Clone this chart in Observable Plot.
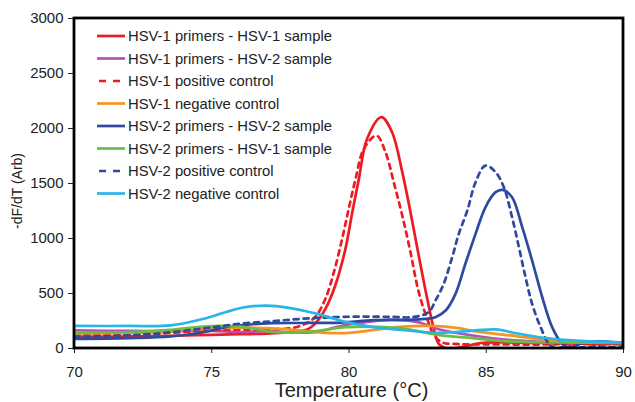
<!DOCTYPE html>
<html>
<head>
<meta charset="utf-8">
<script src="https://cdn.jsdelivr.net/npm/d3@7"></script>
<script src="https://cdn.jsdelivr.net/npm/@observablehq/plot@0.6"></script>
<style>
  html, body { margin: 0; padding: 0; background: #fff; }
  #chart { width: 635px; height: 402px; }
</style>
</head>
<body>
<div id="chart"></div>
<script>
// ---- Data: [temperature °C, -dF/dT] ----
const hsv1PrimHsv1Sample = [[70,109],[71,108],[72,110],[73,112],[74,118],[75,124],[76,130],[77,135],[77.8,148],[78.5,175],[78.8,235],[79.14,360],[79.5,573],[79.87,906],[80.12,1239],[80.36,1542],[80.66,1906],[81.18,2103],[81.57,1966],[81.94,1603],[82.24,1239],[82.54,845],[82.85,452],[83.09,179],[83.27,42],[83.5,5],[83.75,0],[84.0,8],[84.4,30],[84.8,50],[85.5,55],[86.5,52],[87.5,48],[88.5,45],[90,40]];
const hsv1PrimHsv2Sample = [[70,164],[72,160],[74,158],[75,160],[76,150],[77,158],[78,145],[78.8,150],[79.7,205],[80.6,240],[81.5,261],[82.5,240],[83.3,173],[84.5,118],[85.8,78],[87,62],[88,55],[90,50]];
const hsv1PosControl = [[70,118],[71,125],[72,130],[73,135],[74,150],[75,165],[76,172],[77,173],[78,190],[78.4,224],[78.78,290],[79.14,452],[79.45,694],[79.75,997],[79.99,1270],[80.24,1542],[80.54,1815],[81.0,1935],[81.33,1785],[81.63,1512],[81.94,1209],[82.24,875],[82.54,512],[82.85,270],[83.1,120],[83.4,55],[84,40],[85,38],[86,36],[87,36],[88,40],[89,40],[90,40]];
const hsv1NegControl = [[70,140],[72,142],[73.5,150],[74.8,180],[76,190],[77,185],[78,170],[79,145],[80,142],[81,172],[82,200],[83,205],[84,185],[84.5,160],[85.8,121],[87,85],[88,64],[89,55],[90,50]];
const hsv2PrimHsv2Sample = [[70,88],[72,95],[73.5,110],[74.7,148],[75.5,195],[76.2,215],[77.2,230],[78.3,232],[79.7,235],[80.9,258],[82.1,261],[82.79,270],[83.15,285],[83.52,345],[83.88,497],[84.24,770],[84.61,1042],[84.97,1284],[85.34,1421],[85.6,1442],[85.94,1375],[86.31,1103],[86.67,800],[87.04,466],[87.4,194],[87.77,42],[88.07,6],[88.5,50],[89,64],[89.7,55],[90,45]];
const hsv2PrimHsv1Sample = [[70,139],[72,150],[73.5,170],[74.7,200],[75.5,205],[76.2,195],[77.2,150],[78.4,148],[79.9,194],[81,197],[82,182],[83.3,121],[84.5,95],[85.8,64],[87.5,55],[90,50]];
const hsv2PosControl = [[70,103],[71.5,115],[73,136],[74.7,182],[76,224],[77.2,248],[78.3,270],[79.45,285],[80.5,290],[81.5,288],[82.3,285],[82.9,330],[83.15,436],[83.45,588],[83.76,830],[84.0,1042],[84.31,1254],[84.61,1512],[84.97,1663],[85.34,1603],[85.64,1466],[85.94,1194],[86.19,921],[86.43,648],[86.67,406],[86.98,194],[87.28,42],[87.5,5],[88,20],[88.5,10],[89,20],[89.7,10],[90,20]];
const hsv2NegControl = [[70,205],[72,205],[73.5,210],[74.7,270],[75.5,330],[76.2,375],[77,390],[77.8,370],[78.8,318],[79.9,240],[80.9,194],[82.1,164],[83.3,142],[84.6,164],[85.35,173],[86.1,139],[87,100],[88,76],[88.8,64],[90,55]];

const seriesNames = ["HSV-1 primers - HSV-1 sample","HSV-1 primers - HSV-2 sample","HSV-1 positive control","HSV-1 negative control","HSV-2 primers - HSV-2 sample","HSV-2 primers - HSV-1 sample","HSV-2 positive control","HSV-2 negative control"];
const seriesData = [hsv1PrimHsv1Sample, hsv1PrimHsv2Sample, hsv1PosControl, hsv1NegControl, hsv2PrimHsv2Sample, hsv2PrimHsv1Sample, hsv2PosControl, hsv2NegControl];
const seriesColors = ["#ed1c24","#b94fb4","#ed1c24","#f7941d","#2e4a9e","#6cbd45","#2e4a9e","#29b5e8"];
const seriesDashed = [false,false,true,false,false,false,true,false];
const xTicks = [70,75,80,85,90];
const yTicks = [0,500,1000,1500,2000,2500,3000];
const xLabel = "Temperature (°C)";
const yLabel = "-dF/dT (Arb)";

const FONT = "'Liberation Sans', Arial, Helvetica, sans-serif";
const W = 635, H = 402;
const M = {left: 74, right: 12, top: 18, bottom: 54};

const lineMarks = seriesData.map((s, i) => Plot.line(s, {
  x: d => d[0], y: d => d[1],
  stroke: seriesColors[i], strokeWidth: 2.7,
  strokeDasharray: seriesDashed[i] ? "5,5" : null,
  curve: "catmull-rom", clip: true
}));

const chart = Plot.plot({
  width: W, height: H,
  marginLeft: M.left, marginRight: M.right, marginTop: M.top, marginBottom: M.bottom,
  style: {fontFamily: FONT, fontSize: "15px", color: "#222", background: "#fff", overflow: "visible"},
  x: {domain: [70, 90], label: null},
  y: {domain: [0, 3000], label: null},
  marks: [
    ...lineMarks,
    Plot.axisX({ticks: xTicks, tickSize: 5, tickPadding: 13, label: null, fontSize: 15, tickFormat: d => String(d)}),
    Plot.axisY({ticks: yTicks, tickSize: 6, tickPadding: 5, label: null, fontSize: 15, tickFormat: d => String(d)})
  ]
});
document.getElementById("chart").appendChild(chart);

const svg = d3.select(chart);
const sx = chart.scale("x"), sy = chart.scale("y");
const x0 = sx.apply(70), x1 = sx.apply(90), y0 = sy.apply(3000), y1 = sy.apply(0);
// plot-area frame
svg.append("rect")
  .attr("x", x0).attr("y", y0).attr("width", x1 - x0).attr("height", y1 - y0)
  .attr("fill", "none").attr("stroke", "#000").attr("stroke-width", 2.8);

// axis titles
svg.append("text")
  .attr("x", (x0 + x1) / 2 + 3).attr("y", 397)
  .attr("text-anchor", "middle").attr("font-size", 20).attr("fill", "#222")
  .attr("font-family", FONT).text(xLabel);
svg.append("text")
  .attr("transform", `translate(22,${191}) rotate(-90)`)
  .attr("text-anchor", "middle").attr("font-size", 14).attr("fill", "#222")
  .attr("font-family", FONT).text(yLabel);

// legend (inside plot, upper left)
const lg = svg.append("g").attr("font-family", FONT).attr("font-size", 14.8)
  .attr("fill", "#222").attr("text-anchor", "start");
seriesNames.forEach((name, i) => {
  const y = 36 + i * 22.5;
  if (seriesDashed[i]) {
    lg.append("line").attr("x1", 99).attr("x2", 121).attr("y1", y).attr("y2", y)
      .attr("stroke", seriesColors[i]).attr("stroke-width", 2.7).attr("stroke-dasharray", "7,7");
  } else {
    lg.append("line").attr("x1", 97).attr("x2", 125).attr("y1", y).attr("y2", y)
      .attr("stroke", seriesColors[i]).attr("stroke-width", 2.7);
  }
  lg.append("text").attr("x", 128).attr("y", y).attr("dy", "0.36em")
    .attr("text-anchor", "start").text(name);
});
</script>
</body>
</html>
